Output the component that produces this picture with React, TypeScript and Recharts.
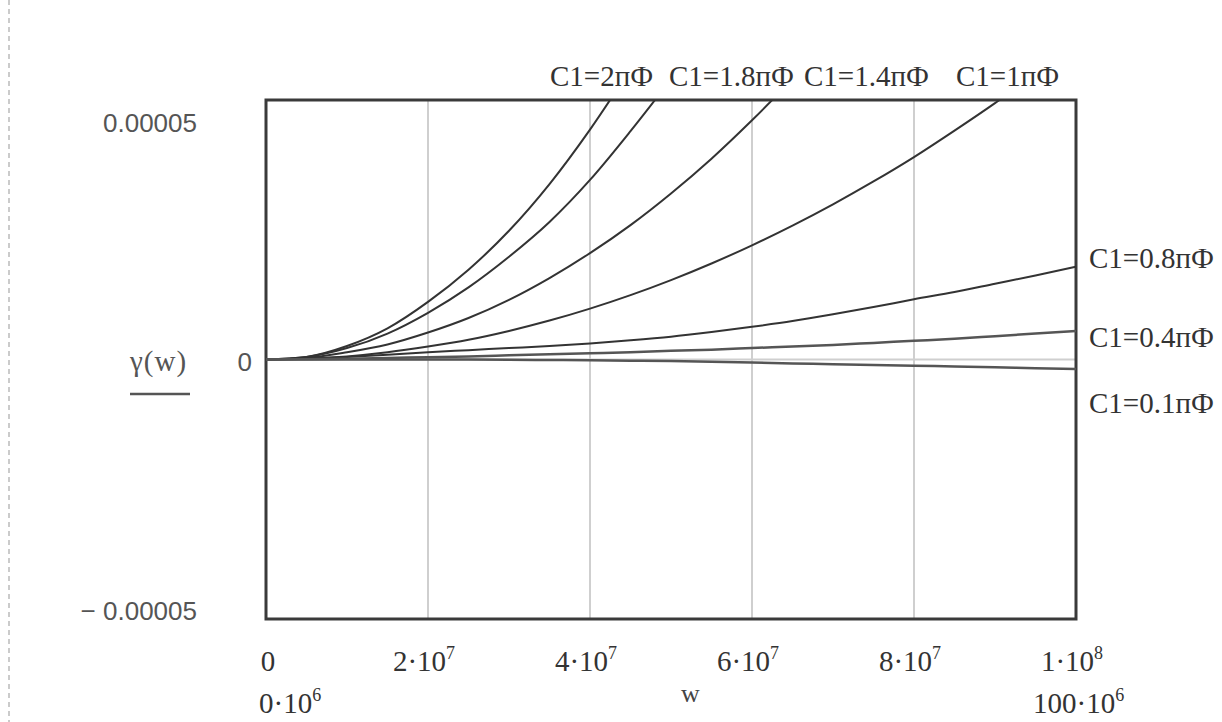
import { LineChart, Line, XAxis, YAxis, CartesianGrid, ReferenceArea } from 'recharts';

// w in units of 1e6, gamma(w) in units of 1e-6
const wSteps = [0, 5, 10, 15, 20, 25, 30, 35, 40, 45, 50, 55, 60, 65, 70, 75, 80, 85, 90, 95, 100];

const c20 = [0, 0.5, 2.6, 6.0, 11.1, 17.3, 24.8, 33.8, 44.3, 56];
const c18 = [0, 0.5, 2.2, 5.0, 9.0, 13.9, 19.8, 26.5, 34.6, 44, 54];
const c14 = [0, 0.3, 1.4, 2.9, 5.2, 8.0, 11.5, 15.7, 20.5, 25.9, 32.0, 38.7, 46.1, 54];
const c10 = [0, 0.15, 0.6, 1.4, 2.5, 3.8, 5.5, 7.5, 9.8, 12.4, 15.3, 18.5, 22.0, 25.8, 29.9, 34.3, 39.0, 44.1, 49.4, 55];
const c08 = [0, 0.2, 0.5, 0.9, 1.4, 1.8, 2.2, 2.6, 3.1, 3.7, 4.4, 5.3, 6.3, 7.4, 8.7, 10.1, 11.6, 13.0, 14.6, 16.2, 17.9];
const c04 = [0, 0.05, 0.15, 0.3, 0.45, 0.6, 0.8, 1.0, 1.2, 1.4, 1.7, 1.9, 2.2, 2.5, 2.8, 3.2, 3.6, 4.0, 4.5, 5.0, 5.5];
const c01 = [0, 0, 0, 0, 0, -0.02, -0.05, -0.1, -0.15, -0.22, -0.3, -0.45, -0.6, -0.75, -0.9, -1.05, -1.2, -1.35, -1.5, -1.7, -1.85];

const xTicks = [0, 2e7, 4e7, 6e7, 8e7, 1e8];
const xTickBase = ['0', '2·10', '4·10', '6·10', '8·10', '1·10'];
const xTickExp = ['', '7', '7', '7', '7', '8'];

const yTicks = [-5e-5, 0, 5e-5];
const yTickText = ['− 0.00005', '0', '0.00005'];

const topLabels = [
  { text: 'C1=2пФ', x: 550 },
  { text: 'C1=1.8пФ', x: 669 },
  { text: 'C1=1.4пФ', x: 804 },
  { text: 'C1=1пФ', x: 956 },
];
const rightLabels = [
  { text: 'C1=0.8пФ', y: 268 },
  { text: 'C1=0.4пФ', y: 347 },
  { text: 'C1=0.1пФ', y: 413 },
];

const series = [
  { key: 'c20', vals: c20 },
  { key: 'c18', vals: c18 },
  { key: 'c14', vals: c14 },
  { key: 'c10', vals: c10 },
  { key: 'c08', vals: c08 },
  { key: 'c04', vals: c04 },
  { key: 'c01', vals: c01 },
];

const data = wSteps.map((w, i) => {
  const row: any = { w: w * 1e6 };
  series.forEach((s) => {
    if (i < s.vals.length) row[s.key] = s.vals[i] * 1e-6;
  });
  return row;
});

const serif = '"Liberation Serif", "Times New Roman", serif';
const sans = '"Liberation Sans", Arial, sans-serif';

const renderXTick = (props: any) => {
  const { x, payload } = props;
  const i = xTicks.indexOf(payload.value);
  if (i < 0) return <g />;
  const cx = i === 0 ? x + 2 : x - 4;
  return (
    <g>
      <text x={cx} y={671} textAnchor="middle" fontFamily={serif} fontSize={29} fill="#333">
        <tspan>{xTickBase[i]}</tspan>
        {xTickExp[i] ? (
          <tspan dy={-12} fontSize={18}>
            {xTickExp[i]}
          </tspan>
        ) : null}
      </text>
      {i === 0 ? (
        <text x={259} y={713} fontFamily={serif} fontSize={29} fill="#333">
          <tspan>0·10</tspan>
          <tspan dy={-12} fontSize={18}>6</tspan>
        </text>
      ) : null}
      {i === xTicks.length - 1 ? (
        <text x={1033} y={713} fontFamily={serif} fontSize={29} fill="#333">
          <tspan>100·10</tspan>
          <tspan dy={-12} fontSize={18}>6</tspan>
        </text>
      ) : null}
    </g>
  );
};

const renderYTick = (props: any) => {
  const { y, payload } = props;
  const i = yTicks.indexOf(payload.value);
  if (i < 0) return <g />;
  let tx = 197;
  let ty = y + 1;
  if (i === 1) {
    tx = 252;
    ty = y + 11;
  } else if (i === 2) {
    ty = y + 32;
  }
  return (
    <text x={tx} y={ty} textAnchor="end" fontFamily={sans} fontSize={26} fill="#555">
      {yTickText[i]}
    </text>
  );
};

export default function App() {
  return (
    <div style={{ position: 'absolute', left: 0, top: 0, width: 1222, height: 722, background: '#fff' }}>
      <LineChart
        width={1222}
        height={722}
        data={data}
        margin={{ top: 100, right: 146, bottom: 63, left: 206 }}
      >
        <CartesianGrid stroke="#cfcfcf" strokeWidth={2} />
        <XAxis
          dataKey="w"
          type="number"
          domain={[0, 1e8]}
          ticks={xTicks}
          height={40}
          axisLine={false}
          tickLine={false}
          tick={renderXTick}
          interval={0}
        />
        <YAxis
          type="number"
          domain={[-5e-5, 5e-5]}
          ticks={yTicks}
          width={60}
          allowDataOverflow
          axisLine={false}
          tickLine={false}
          tick={renderYTick}
          interval={0}
        />
        {series.map((s) => (
          <Line
            key={s.key}
            dataKey={s.key}
            type="monotone"
            stroke={s.key === 'c04' || s.key === 'c01' ? '#555' : '#333'}
            strokeWidth={s.key === 'c04' || s.key === 'c01' ? 2.5 : 2}
            dot={false}
            activeDot={false}
            isAnimationActive={false}
          />
        ))}
        <ReferenceArea x1={0} x2={1e8} y1={-5e-5} y2={5e-5} fill="none" stroke="#3a3a3a" strokeWidth={3} />
      </LineChart>
      <svg width={1222} height={722} style={{ position: 'absolute', left: 0, top: 0, pointerEvents: 'none' }}>
        <line x1={9} y1={0} x2={9} y2={722} stroke="#bbb" strokeWidth={1.5} strokeDasharray="5 4" />
        {topLabels.map((l) => (
          <text key={l.text} x={l.x} y={86} fontFamily={serif} fontSize={29} fill="#333">
            {l.text}
          </text>
        ))}
        {rightLabels.map((l) => (
          <text key={l.text} x={1089} y={l.y} fontFamily={serif} fontSize={29} fill="#333">
            {l.text}
          </text>
        ))}
        <text x={130} y={371} fontFamily={serif} fontSize={29} fill="#555" letterSpacing={1}>
          γ(w)
        </text>
        <line x1={130} y1={394} x2={190} y2={394} stroke="#555" strokeWidth={2.5} />
        <text x={681} y={702} fontFamily={serif} fontSize={26} fill="#444">
          w
        </text>
      </svg>
    </div>
  );
}
